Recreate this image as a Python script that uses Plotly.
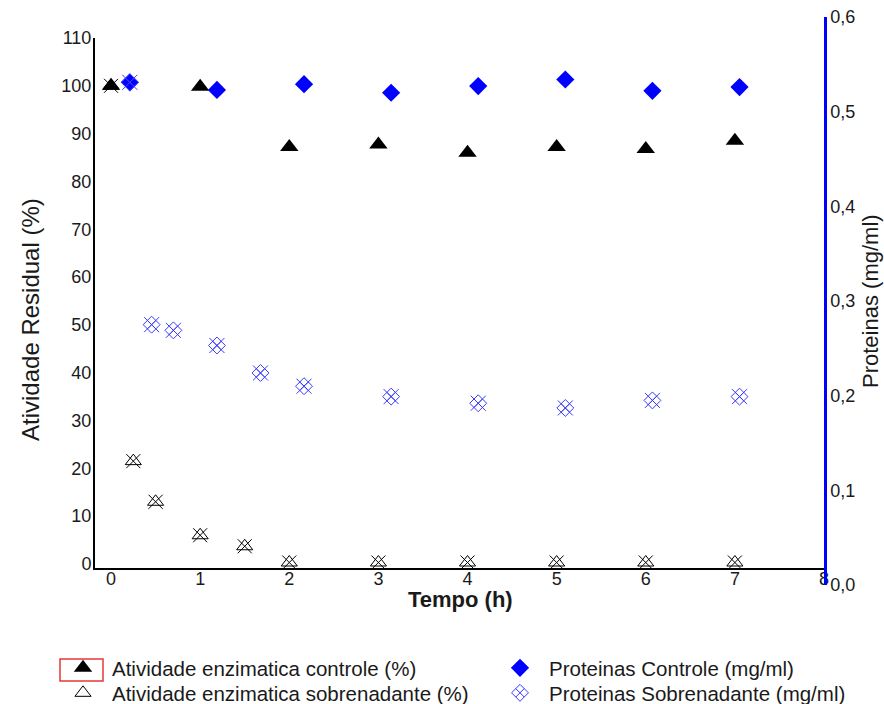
import plotly.graph_objects as go

# Residual enzyme activity (%) over time (h)
t_ctrl = [0, 1, 2, 3, 4, 5, 6, 7]
ativ_ctrl = [100.0, 99.8, 87.2, 87.7, 86.0, 87.2, 86.8, 88.5]

t_sob = [0, 0.25, 0.5, 1, 1.5, 2, 3, 4, 5, 6, 7]
ativ_sob = [100.0, 21.5, 13.0, 6.0, 3.7, 0.3, 0.3, 0.3, 0.3, 0.3, 0.3]

# Protein concentration (mg/ml), plotted against its own time axis
prot_ctrl = [0.531, 0.523, 0.529, 0.520, 0.527, 0.534, 0.522, 0.526]
prot_sob = [0.531, 0.275, 0.269, 0.253, 0.224, 0.210, 0.199, 0.192, 0.187, 0.195, 0.199]

left_ticks = list(range(0, 111, 10))
right_ticks = [0.0, 0.1, 0.2, 0.3, 0.4, 0.5, 0.6]
right_labels = ["0,0", "0,1", "0,2", "0,3", "0,4", "0,5", "0,6"]
x_ticks = list(range(0, 9))

FONT = "Liberation Sans, Arial, sans-serif"
TXT = "#1a1a1a"
BLUE = "#0000ff"
LBLUE = "#3a3aff"

# plot area in pixels: x 95..824, y 17..585
def px(x):
    return (x - 95) / 729

def py(y):
    return (585 - y) / 568

fig = go.Figure()

fig.add_trace(go.Scatter(
    x=t_ctrl, y=ativ_ctrl, mode="markers", name="Atividade enzimatica controle (%)",
    marker=dict(symbol="triangle-up", size=16, color="black"),
    xaxis="x", yaxis="y", legend="legend"))

fig.add_trace(go.Scatter(
    x=t_ctrl, y=prot_ctrl, mode="markers", name="Proteinas Controle (mg/ml)",
    marker=dict(symbol="diamond", size=14, color=BLUE),
    xaxis="x2", yaxis="y2", legend="legend2"))

fig.add_trace(go.Scatter(
    x=t_sob, y=ativ_sob, mode="markers", name="Atividade enzimatica sobrenadante (%)",
    marker=dict(symbol="triangle-up-open", size=14, color="black", line=dict(width=1, color="black")),
    xaxis="x", yaxis="y", legend="legend3", legendgroup="as"))
fig.add_trace(go.Scatter(
    x=t_sob, y=ativ_sob, mode="markers", showlegend=False, legendgroup="as",
    marker=dict(symbol="x-thin-open", size=14, color="black", line=dict(width=1, color="black")),
    xaxis="x", yaxis="y", hoverinfo="skip"))

fig.add_trace(go.Scatter(
    x=t_sob, y=prot_sob, mode="markers", name="Proteinas Sobrenadante (mg/ml)",
    marker=dict(symbol="diamond-x-open", size=13, color=LBLUE, line=dict(width=1, color=LBLUE)),
    xaxis="x2", yaxis="y2", legend="legend4", legendgroup="ps"))
fig.add_trace(go.Scatter(
    x=t_sob, y=prot_sob, mode="markers", showlegend=False, legendgroup="ps",
    marker=dict(symbol="x-thin-open", size=15, color=LBLUE, line=dict(width=1, color=LBLUE)),
    xaxis="x2", yaxis="y2", hoverinfo="skip"))

legend_style = dict(orientation="v", xanchor="left", yanchor="top", itemwidth=48,
                    font=dict(size=20.5, color=TXT), bgcolor="rgba(0,0,0,0)")

fig.update_layout(
    width=884, height=704,
    margin=dict(l=95, r=60, t=17, b=119, autoexpand=False),
    paper_bgcolor="white", plot_bgcolor="rgba(0,0,0,0)",
    font=dict(family=FONT, color=TXT, size=18),
    xaxis=dict(domain=[0, 1], anchor="y", range=[-0.18, 8], tickvals=x_ticks,
               showline=True, linecolor="black", linewidth=2, showgrid=False, zeroline=False,
               ticks="", ticklabelstandoff=-7, tickfont=dict(size=18, color=TXT)),
    yaxis=dict(domain=[py(568), py(38)], anchor="x", range=[-0.85, 110], tickvals=left_ticks,
               showline=True, linecolor="black", linewidth=2, showgrid=False, zeroline=False,
               ticks="", ticklabelstandoff=-2, tickfont=dict(size=18, color=TXT)),
    xaxis2=dict(domain=[0, 1], anchor="y2", range=[-0.40, 7.97], visible=False),
    yaxis2=dict(domain=[0, 1], anchor="x2", side="right", range=[0, 0.6],
                tickvals=right_ticks, ticktext=right_labels,
                showline=True, linecolor=BLUE, linewidth=2.5, showgrid=False, zeroline=False,
                ticks="", tickfont=dict(size=18, color=TXT)),
    legend=dict(x=px(54), y=py(648), **legend_style),
    legend2=dict(x=px(491), y=py(648), **legend_style),
    legend3=dict(x=px(54), y=py(673), **legend_style),
    legend4=dict(x=px(491), y=py(673), **legend_style),
    showlegend=True,
)

# Axis titles
fig.add_annotation(text="Atividade Residual (%)", xref="paper", yref="paper",
                   x=px(30), y=py(320), textangle=-90, showarrow=False,
                   font=dict(size=24, color=TXT), xanchor="center", yanchor="middle")
fig.add_annotation(text="Proteinas (mg/ml)", xref="paper", yref="paper",
                   x=px(870), y=py(301), textangle=-90, showarrow=False,
                   font=dict(size=22, color=TXT), xanchor="center", yanchor="middle")
fig.add_annotation(text="<b>Tempo (h)</b>", xref="paper", yref="paper",
                   x=px(460), y=py(599), showarrow=False,
                   font=dict(size=22, color=TXT), xanchor="center", yanchor="middle")

# Selection box around the first legend symbol
fig.add_shape(type="rect", xref="paper", yref="paper",
              x0=px(60), x1=px(103), y0=py(681), y1=py(659),
              line=dict(color="#e53935", width=1.5))

fig.write_html("out.html")
